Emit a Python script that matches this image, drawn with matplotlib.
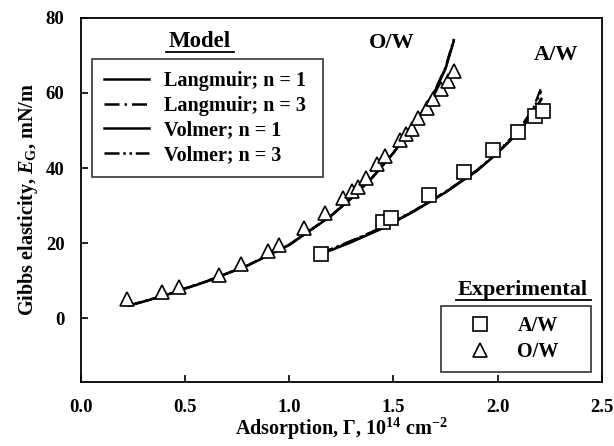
import matplotlib
matplotlib.use('Agg')
import matplotlib.pyplot as plt
from matplotlib.lines import Line2D

plt.rcParams.update({
    'font.family': 'Liberation Serif',
    'font.weight': 'bold',
    'axes.labelweight': 'bold',
    'font.size': 14,
    'mathtext.fontset': 'custom',
    'mathtext.rm': 'Liberation Serif:bold',
    'mathtext.bf': 'Liberation Serif:bold',
    'mathtext.it': 'Liberation Serif:italic:bold',
    'axes.linewidth': 1.3,
})

# ---------------------
# Data
# ---------------------
# Experimental points
exp_aw_x = [1.15, 1.45, 1.49, 1.67, 1.84, 1.98, 2.10, 2.18, 2.22]
exp_aw_y = [17.1, 25.6, 26.7, 32.8, 38.9, 44.8, 49.6, 53.9, 55.2]

exp_ow_x = [0.22, 0.39, 0.47, 0.66, 0.77, 0.90, 0.95, 1.07, 1.17, 1.26,
            1.30, 1.33, 1.37, 1.42, 1.46, 1.53, 1.56, 1.59, 1.62, 1.66,
            1.69, 1.73, 1.76, 1.79]
exp_ow_y = [5.0, 7.0, 8.3, 11.6, 14.3, 17.9, 19.4, 24.0, 28.0, 32.0,
            33.8, 35.0, 37.4, 41.0, 43.2, 47.5, 49.0, 50.4, 53.4, 56.0,
            58.4, 61.0, 63.2, 65.9]

# Model curves, O/W
gamma_ow = [0.23, 0.40, 0.60, 0.80, 1.00, 1.20, 1.30, 1.40, 1.50, 1.60, 1.70, 1.75, 1.79]
langmuir1_ow = [3.3, 6.0, 9.7, 14.0, 19.5, 27.2, 32.0, 37.5, 44.0, 51.5, 60.5, 66.5, 74.0]
langmuir3_ow = [3.4, 6.1, 9.8, 14.1, 19.6, 27.3, 32.1, 37.6, 44.1, 51.7, 60.8, 66.9, 74.4]
volmer1_ow = [3.3, 6.0, 9.7, 14.0, 19.5, 27.2, 32.0, 37.5, 44.0, 51.5, 60.5, 66.4, 73.8]
volmer3_ow = [3.4, 6.1, 9.8, 14.1, 19.6, 27.3, 32.1, 37.6, 44.1, 51.6, 60.7, 66.7, 74.2]

# Model curves, A/W
gamma_aw = [1.15, 1.30, 1.45, 1.60, 1.75, 1.90, 2.00, 2.10, 2.17, 2.21]
langmuir1_aw = [17.0, 20.3, 24.0, 28.5, 33.5, 39.2, 44.0, 49.5, 54.7, 58.5]
langmuir3_aw = [17.3, 20.7, 24.3, 28.7, 33.7, 39.4, 44.3, 50.0, 55.8, 61.5]
volmer1_aw = [17.0, 20.3, 24.0, 28.5, 33.5, 39.2, 44.0, 49.4, 54.5, 58.2]
volmer3_aw = [17.2, 20.6, 24.2, 28.6, 33.6, 39.3, 44.2, 49.8, 55.4, 60.5]

model_labels = ['Langmuir; n = 1', 'Langmuir; n = 3', 'Volmer; n = 1', 'Volmer; n = 3']

# ---------------------
# Plot
# ---------------------
fig = plt.figure(figsize=(6.14, 4.46), dpi=100)
ax = fig.add_axes([0.132, 0.1435, 0.848, 0.8165])

styles = ['-', (0, (6, 2, 1, 2)), '-', (0, (6, 1.5, 1, 1.5, 1, 1.5))]
ow_curves = [langmuir1_ow, langmuir3_ow, volmer1_ow, volmer3_ow]
aw_curves = [langmuir1_aw, langmuir3_aw, volmer1_aw, volmer3_aw]
for ls, yo, ya in zip(styles, ow_curves, aw_curves):
    ax.plot(gamma_ow, yo, color='black', lw=1.6, ls=ls)
    ax.plot(gamma_aw, ya, color='black', lw=1.6, ls=ls)

ax.plot(exp_aw_x, exp_aw_y, ls='none', marker='s', ms=9.5, mfc='white',
        mec='black', mew=1.2)
ax.plot(exp_ow_x, exp_ow_y, ls='none', marker='^', ms=10.5, mfc='white',
        mec='black', mew=1.2)

ax.set_xlim(0, 2.5)
ax.set_ylim(-17, 80)
ax.set_xticks([0.0, 0.5, 1.0, 1.5, 2.0, 2.5])
ax.set_xticklabels(['0.0', '0.5', '1.0', '1.5', '2.0', '2.5'])
ax.set_yticks([0, 20, 40, 60, 80])
ax.tick_params(direction='in', length=5, width=1.2, labelsize=13.5, pad=12)

ax.set_xlabel(r'Adsorption, Γ, 10$^{14}$ cm$^{-2}$', fontsize=14.5, labelpad=0)
ax.set_ylabel(r'Gibbs elasticity, $E_{\mathrm{G}}$, mN/m', fontsize=14.5, labelpad=4)

# curve labels
ax.text(1.49, 73.3, 'O/W', ha='center', va='center', fontsize=16)
ax.text(2.28, 70.0, 'A/W', ha='center', va='center', fontsize=16)

# Model legend
handles = [Line2D([], [], color='black', lw=1.8, ls=ls) for ls in styles]
leg1 = ax.legend(handles, model_labels, loc='upper left', mode='expand',
                 bbox_to_anchor=(0.021, 0.560, 0.443, 0.327), frameon=True,
                 fancybox=False, edgecolor='black', fontsize=14.5,
                 handlelength=2.2, handletextpad=0.75, labelspacing=0.22,
                 borderpad=0.62, borderaxespad=0)
leg1.get_frame().set_linewidth(1.2)
ax.add_artist(leg1)
ax.text(0.228, 0.935, 'Model', transform=ax.transAxes, ha='center',
        va='center', fontsize=16.5)
ax.plot([0.163, 0.293], [0.907, 0.907], transform=ax.transAxes,
        color='black', lw=1.3, clip_on=False)

# Experimental legend
exp_handles = [
    Line2D([], [], ls='none', marker='s', ms=9.5, mfc='white', mec='black', mew=1.2),
    Line2D([], [], ls='none', marker='^', ms=10.5, mfc='white', mec='black', mew=1.2),
]
leg2 = ax.legend(exp_handles, ['A/W', 'O/W'], loc='lower left', mode='expand',
                 bbox_to_anchor=(0.691, 0.027, 0.288, 0.176), frameon=True,
                 fancybox=False, edgecolor='black', fontsize=14.5,
                 handlelength=2.9, handletextpad=0.4, labelspacing=0.3,
                 borderpad=0.5, borderaxespad=0)
leg2.get_frame().set_linewidth(1.2)
ax.text(0.848, 0.253, 'Experimental', transform=ax.transAxes, ha='center',
        va='center', fontsize=16)
ax.plot([0.72, 0.98], [0.225, 0.225], transform=ax.transAxes,
        color='black', lw=1.3, clip_on=False)

fig.savefig('out.png', dpi=100)
